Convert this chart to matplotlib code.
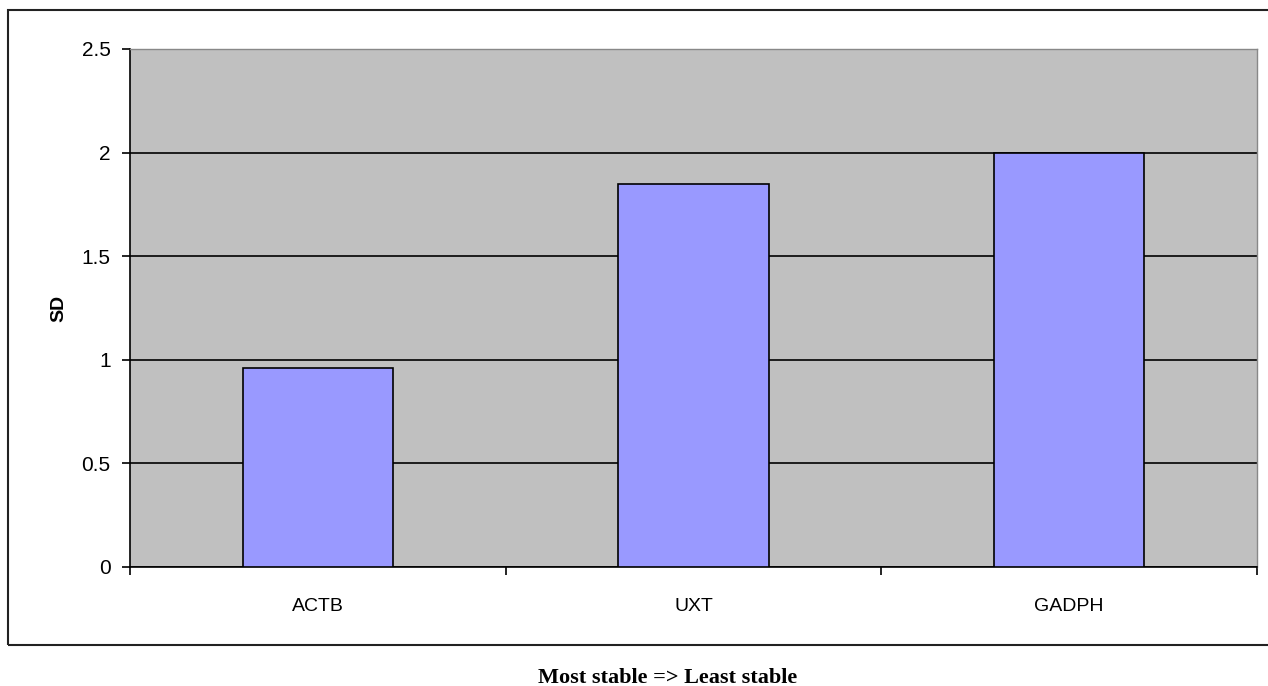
import matplotlib
matplotlib.use("Agg")
import matplotlib.pyplot as plt
import numpy as np

genes = ["ACTB", "UXT", "GADPH"]
sd_values = [0.96, 1.85, 2.0]
y_ticks = [0, 0.5, 1, 1.5, 2, 2.5]
y_tick_labels = ["0", "0.5", "1", "1.5", "2", "2.5"]

plt.rcParams["font.family"] = ["Liberation Sans", "DejaVu Sans"]

fig = plt.figure(figsize=(12.68, 6.86), dpi=100)
ax = fig.add_axes([130 / 1268, 1 - 567 / 686, 1127 / 1268, 518 / 686])

# outer chart frame
frame = plt.Rectangle((8 / 1268, 1 - 645 / 686), 1.0, (645 - 10) / 686,
                      transform=fig.transFigure, fill=False,
                      edgecolor="#222222", linewidth=1.5)
fig.patches.append(frame)

ax.set_facecolor("#c0c0c0")
x = np.arange(len(genes))
ax.bar(x, sd_values, width=0.4, color="#9999ff", edgecolor="black",
       linewidth=1.2, zorder=3)

ax.set_xlim(-0.5, len(genes) - 0.5)
ax.set_ylim(0, 2.5)
ax.set_yticks(y_ticks)
ax.set_yticklabels(y_tick_labels, fontsize=15)
ax.yaxis.grid(True, color="black", linewidth=1.2, zorder=1)
ax.set_axisbelow(True)

ax.set_xticks(x)
ax.set_xticklabels(genes, fontsize=14)
ax.set_xticks(np.arange(-0.5, len(genes)), minor=True)
ax.tick_params(axis="x", which="major", length=0, pad=22)
ax.tick_params(axis="x", which="minor", length=6, width=1.2, direction="out")
ax.tick_params(axis="y", length=6, width=1.2, direction="out", pad=8)

for side in ["top", "right"]:
    ax.spines[side].set_color("#888888")
    ax.spines[side].set_linewidth(1.0)
for side in ["left", "bottom"]:
    ax.spines[side].set_color("black")
    ax.spines[side].set_linewidth(1.2)

ax.set_ylabel("SD", fontsize=14, fontweight="bold", labelpad=10)

fig.text(668 / 1268, 1 - 678 / 686, "Most stable => Least stable",
         ha="center", va="center", fontsize=16, fontweight="bold",
         family=["Liberation Serif", "DejaVu Serif"])

fig.savefig("out.png", dpi=100)
